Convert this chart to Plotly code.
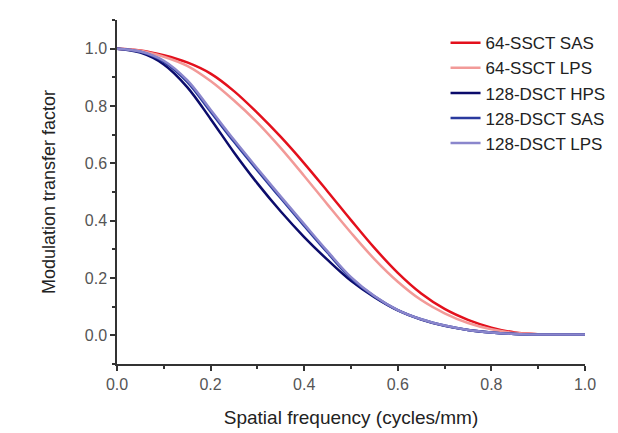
import plotly.graph_objects as go

# spatial frequency (cycles/mm)
freq = [0.0, 0.05, 0.1, 0.15, 0.2, 0.25, 0.3, 0.35, 0.4, 0.45, 0.5,
        0.55, 0.6, 0.65, 0.7, 0.75, 0.8, 0.85, 0.9, 0.95, 1.0]

# MTF values
ssct64_sas = [1.0, 0.994, 0.977, 0.952, 0.913, 0.852, 0.776, 0.692, 0.600, 0.502, 0.402,
              0.305, 0.218, 0.146, 0.092, 0.054, 0.027, 0.010, 0.004, 0.003, 0.003]
ssct64_lps = [1.0, 0.993, 0.972, 0.940, 0.887, 0.819, 0.742, 0.653, 0.556, 0.456, 0.358,
              0.266, 0.187, 0.123, 0.077, 0.043, 0.021, 0.008, 0.004, 0.003, 0.003]
dsct128_hps = [1.0, 0.986, 0.945, 0.866, 0.755, 0.638, 0.530, 0.432, 0.343, 0.263, 0.190,
               0.133, 0.087, 0.055, 0.033, 0.019, 0.010, 0.005, 0.003, 0.003, 0.003]
dsct128_sas = [1.0, 0.989, 0.954, 0.884, 0.780, 0.675, 0.575, 0.478, 0.382, 0.288, 0.199,
               0.136, 0.088, 0.056, 0.034, 0.019, 0.010, 0.005, 0.003, 0.003, 0.003]
dsct128_lps = [1.0, 0.990, 0.958, 0.890, 0.787, 0.682, 0.582, 0.484, 0.388, 0.293, 0.203,
               0.137, 0.088, 0.056, 0.034, 0.019, 0.010, 0.005, 0.003, 0.003, 0.003]

series = [
    ('64-SSCT SAS', ssct64_sas, '#e3101c'),
    ('64-SSCT LPS', ssct64_lps, '#f29a98'),
    ('128-DSCT HPS', dsct128_hps, '#0b0b6b'),
    ('128-DSCT SAS', dsct128_sas, '#2a3a9e'),
    ('128-DSCT LPS', dsct128_lps, '#8a86cc'),
]

fig = go.Figure()
for name, vals, col in series:
    fig.add_trace(go.Scatter(x=freq, y=vals, mode='lines', name=name,
                             line=dict(color=col, width=2.5, shape='spline', smoothing=1.0)))

axis_common = dict(
    showline=True, linecolor='#333', linewidth=1.5,
    ticks='outside', ticklen=5, tickwidth=1.5, tickcolor='#333',
    showgrid=False, zeroline=False, tickformat='.1f', automargin=False,
    tickfont=dict(family='Liberation Sans, Arial', size=16, color='#555'),
)

# the page body adds 8px around the figure, margins allow for it
fig.update_layout(
    width=618, height=433,
    margin=dict(l=109, r=41, t=12, b=77),
    paper_bgcolor='white', plot_bgcolor='white',
    font=dict(family='Liberation Sans, Arial', color='#222'),
    xaxis=dict(range=[0, 1.0], dtick=0.2,
               minor=dict(ticks='outside', ticklen=3, tickwidth=1.5, tickcolor='#333', dtick=0.1),
               title=dict(text='Spatial frequency (cycles/mm)', font=dict(size=19, color='#222'), standoff=19),
               **axis_common),
    yaxis=dict(range=[-0.1, 1.1], tickvals=[0.0, 0.2, 0.4, 0.6, 0.8, 1.0],
               minor=dict(ticks='outside', ticklen=3, tickwidth=1.5, tickcolor='#333',
                          tickvals=[-0.1, 0.1, 0.3, 0.5, 0.7, 0.9, 1.1]),
               title=dict(text='Modulation transfer factor', font=dict(size=18, color='#222'), standoff=24),
               **axis_common),
    legend=dict(x=0.702, y=0.985, xanchor='left', yanchor='top',
                bgcolor='rgba(0,0,0,0)', tracegroupgap=0,
                font=dict(size=17, color='#222')),
)

fig.write_html('out.html')
